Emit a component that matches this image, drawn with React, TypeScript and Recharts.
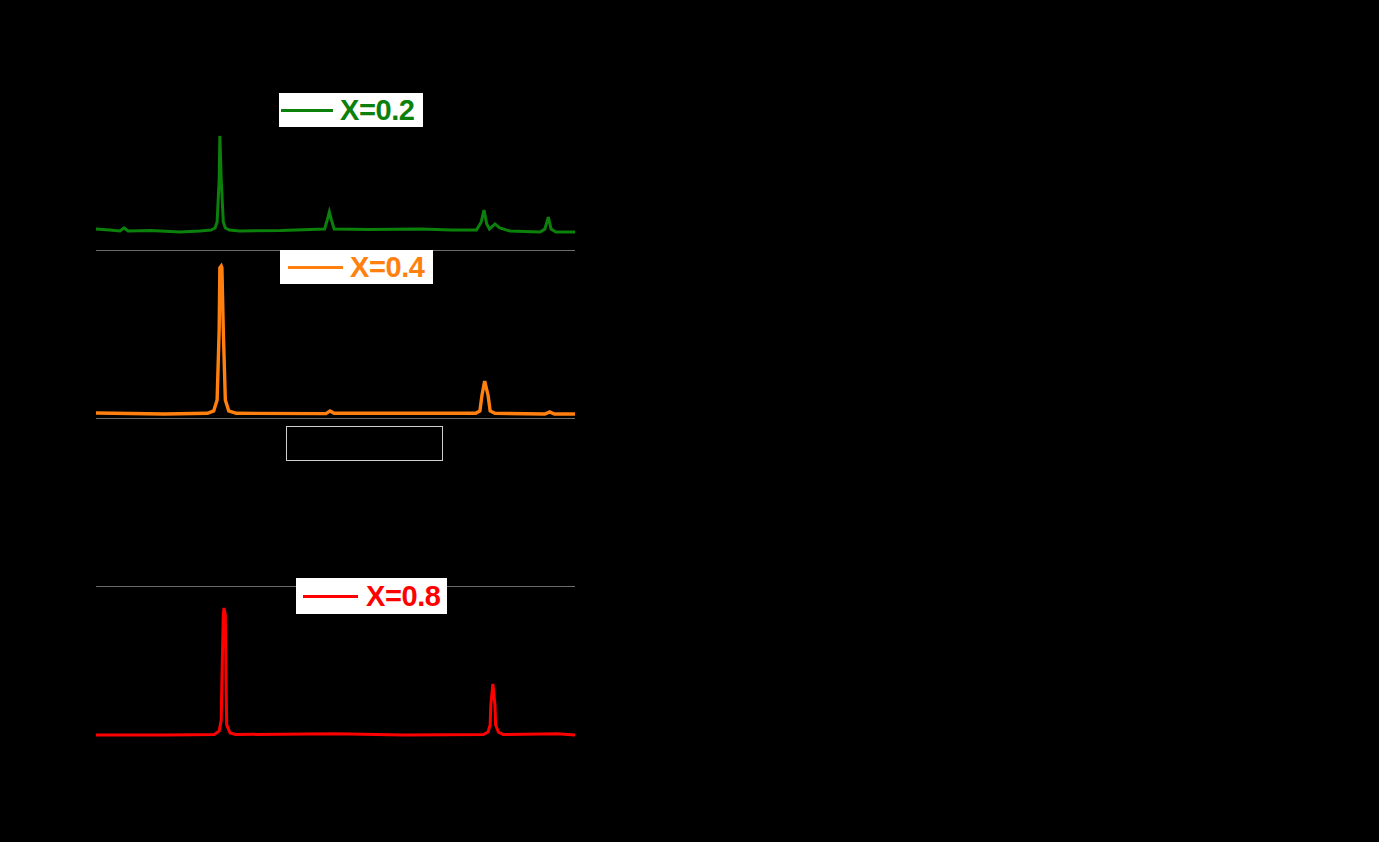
import { LineChart, Line, XAxis, YAxis, Legend, ReferenceLine } from 'recharts'

// 2θ positions (deg) and intensities (a.u., 0-100 per panel)
const X02_THETA = [10, 12.0, 13.5, 14.1, 14.7, 18.0, 22.3, 25.2, 26.8, 27.4, 27.7, 28.0, 28.1, 28.3, 28.6, 28.9, 29.5, 31.0, 37.0, 43.4, 43.8, 44.1, 44.4, 44.8, 50.0, 57.4, 62.0, 65.6, 66.3, 66.7, 67.1, 67.5, 68.3, 69.0, 70.5, 74.9, 75.6, 76.1, 76.5, 77.2, 80]
const X02_INT = [13.1, 12.5, 11.9, 13.7, 11.9, 12.2, 11.3, 11.9, 12.5, 13.7, 17.3, 42.3, 68.5, 42.3, 17.3, 13.7, 12.5, 11.9, 12.2, 13.1, 18.5, 23.2, 18.5, 13.1, 12.8, 13.1, 12.5, 12.5, 17.3, 24.4, 16.1, 13.1, 16.1, 13.7, 11.9, 11.3, 13.1, 20.2, 13.1, 11.3, 11.3]

const X04_THETA = [10, 20.0, 26.3, 27.2, 27.7, 28.0, 28.1, 28.3, 28.4, 28.6, 28.9, 29.4, 30.5, 43.6, 44.2, 44.8, 52.0, 65.5, 66.1, 66.4, 66.8, 67.3, 67.6, 68.3, 75.6, 76.3, 77.0, 80]
const X04_INT = [3.6, 3.0, 3.4, 4.8, 11.3, 53.0, 90.0, 91.1, 90.0, 53.0, 11.3, 4.8, 3.4, 3.2, 4.8, 3.4, 3.4, 3.4, 4.8, 14.0, 22.6, 14.0, 4.8, 3.4, 3.0, 4.2, 3.0, 3.0]

const X06_THETA = [10, 27.8, 28.2, 28.4, 28.6, 29.0, 44.5, 66.9, 67.3, 67.5, 67.7, 68.1, 80]
const X06_INT = [8.0, 9.5, 40.0, 80.0, 40.0, 9.5, 9.0, 9.5, 22.0, 32.0, 22.0, 9.5, 8.0]

const X08_THETA = [10, 20.0, 27.3, 28.0, 28.3, 28.4, 28.6, 28.7, 28.9, 29.0, 29.1, 29.6, 30.4, 44.9, 55.0, 66.6, 67.3, 67.6, 67.7, 68.0, 68.3, 68.4, 68.8, 69.5, 77.4, 80]
const X08_INT = [11.3, 11.3, 11.6, 13.7, 20.2, 44.0, 82.7, 86.9, 82.7, 44.0, 17.3, 12.5, 11.6, 12.0, 11.3, 11.6, 13.1, 17.3, 29.2, 41.7, 29.2, 17.3, 13.1, 11.6, 12.0, 11.3]

const TICKS = [10, 20, 30, 40, 50, 60, 70, 80]
const LABELS = ['X=0.2', 'X=0.4', 'X=0.6', 'X=0.8']

const rows = (theta: number[], val: number[]) => theta.map((t, i) => ({ t, v: val[i] }))

const PLOT_LEFT = 96
const PLOT_RIGHT = 575
const CHART_W = 620
const PANEL_H = 168

type LegendGeom = { left: number; top: number; width: number; height: number; pad: number; line: number; gap: number; dark?: boolean }

function LegendBox({ color, label, g }: { color: string; label: string; g: LegendGeom }) {
  return (
    <div style={{
      display: 'flex', alignItems: 'center', boxSizing: 'border-box',
      width: g.width, height: g.height, paddingLeft: g.pad,
      background: g.dark ? '#000' : '#fff',
      border: g.dark ? '1px solid #cfcfcf' : 'none',
    }}>
      <span style={{ display: 'inline-block', width: g.line, height: 3, background: color, marginRight: g.gap }} />
      <span style={{ fontFamily: '"Liberation Sans", Arial, sans-serif', fontWeight: 700, fontSize: 29, color, lineHeight: 1, letterSpacing: -0.4 }}>{label}</span>
    </div>
  )
}

function Panel({ data, color, width, label, top, legend, bottomLine, showAxis }: {
  data: { t: number; v: number }[]; color: string; width: number; label: string; top: number
  legend: LegendGeom; bottomLine?: string; showAxis?: boolean
}) {
  const h = showAxis ? PANEL_H + 40 : PANEL_H
  return (
    <div style={{ position: 'absolute', left: 0, top }}>
      <LineChart width={CHART_W} height={h} data={data}
        margin={{ top: 0, right: CHART_W - PLOT_RIGHT, bottom: 0, left: PLOT_LEFT }}>
        <XAxis dataKey="t" type="number" domain={[10, 80]} ticks={TICKS} hide={!showAxis} height={40}
          stroke="#000" tick={{ fill: '#000', fontSize: 14 }} allowDataOverflow />
        <YAxis type="number" domain={[0, 100]} hide allowDataOverflow />
        {bottomLine && <ReferenceLine y={0} stroke={bottomLine} strokeWidth={1} />}
        <Legend layout="horizontal" verticalAlign="middle" align="center"
          wrapperStyle={{ left: legend.left, top: legend.top - top, width: legend.width, height: legend.height }}
          content={() => <LegendBox color={color} label={label} g={legend} />} />
        <Line type="linear" dataKey="v" stroke={color} strokeWidth={width} dot={false} isAnimationActive={false} />
      </LineChart>
    </div>
  )
}

export default function App() {
  return (
    <div style={{ position: 'absolute', left: 0, top: 0, width: 1379, height: 842, background: '#000', overflow: 'hidden' }}>
      <Panel data={rows(X02_THETA, X02_INT)} color="#0b800b" width={3} label={LABELS[0]} top={83}
        legend={{ left: 279, top: 93, width: 144, height: 34, pad: 2, line: 52, gap: 7 }} bottomLine="#d8d8d8" />
      <Panel data={rows(X04_THETA, X04_INT)} color="#ff800e" width={3.4} label={LABELS[1]} top={251}
        legend={{ left: 280, top: 250, width: 153, height: 34, pad: 8, line: 55, gap: 7 }} bottomLine="#d8d8d8" />
      <Panel data={rows(X06_THETA, X06_INT)} color="#000" width={3} label={LABELS[2]} top={419}
        legend={{ left: 286, top: 426, width: 157, height: 35, pad: 7, line: 55, gap: 8, dark: true }} bottomLine="#d8d8d8" />
      <Panel data={rows(X08_THETA, X08_INT)} color="#ff0000" width={3} label={LABELS[3]} top={586}
        legend={{ left: 296, top: 578, width: 151, height: 36, pad: 7, line: 55, gap: 8 }} showAxis />
      <div style={{ position: 'absolute', left: 250, top: 790, color: '#000', fontFamily: '"Liberation Sans", Arial, sans-serif', fontWeight: 700, fontSize: 22 }}>2θ (degree)</div>
      <div style={{ position: 'absolute', left: 20, top: 420, color: '#000', fontFamily: '"Liberation Sans", Arial, sans-serif', fontWeight: 700, fontSize: 22, transform: 'rotate(-90deg)', transformOrigin: 'left top' }}>Intensity (a.u.)</div>
    </div>
  )
}
